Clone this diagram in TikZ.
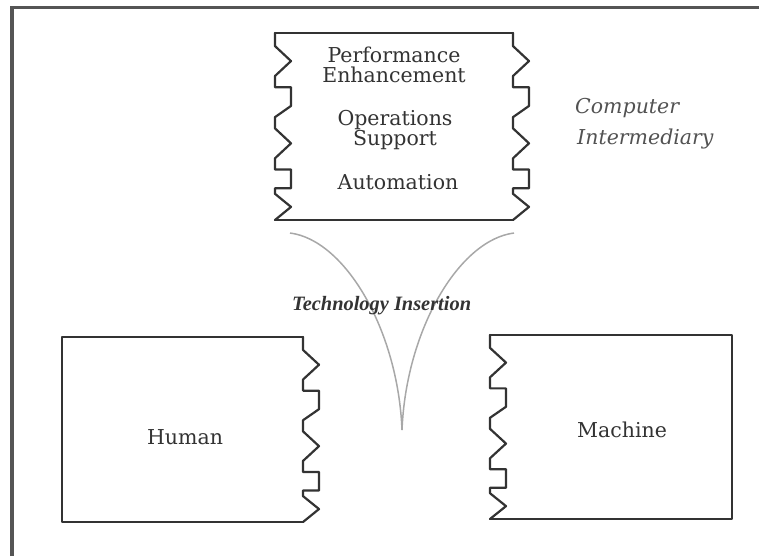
\documentclass[tikz,border=0pt]{standalone}
\usepackage{fontspec}
\setmainfont{DejaVu Serif}
\newfontfamily\insertfont{Liberation Serif}
\definecolor{ink}{HTML}{333333}
\definecolor{frameink}{HTML}{555555}
\definecolor{funnelink}{HTML}{A8A8A8}

% A toothed interface edge running downwards at x=#1 from y=#2 to y=#3;
% the teeth always point towards +x.
\newcommand\toothedge[3]{%
  \draw[boxline] (#1,#2)
    \foreach \f/\o in {0.07/0,0.15/1,0.23/0,0.29/0,0.29/1,0.39/1,0.45/0,
                       0.51/0,0.59/1,0.67/0,0.73/0,0.73/1,0.83/1,0.83/0,
                       0.86/0,0.93/1,1/0}
      {-- ({#1+\o*16},{#2+\f*(#3-#2)})};}

\begin{document}
\begin{tikzpicture}[x=1pt,y=-1pt,
  boxline/.style={draw=ink, line width=2.2pt, line join=round, line cap=round},
  frameline/.style={draw=frameink, line width=3.5pt},
  funnel/.style={draw=funnelink, line width=1.5pt},
  label/.style={text=ink, inner sep=0pt, align=center,
                font=\fontsize{20.5}{20}\selectfont},
  sidelabel/.style={text=ink!85, inner sep=0pt, anchor=base west,
                font=\fontsize{20.5}{24}\selectfont\itshape},
  insertlabel/.style={text=ink, inner sep=0pt, anchor=base west,
                font=\insertfont\fontsize{20.4}{24}\selectfont\bfseries\itshape}]
\useasboundingbox (0,0) rectangle (759,556);

% outer frame (top and left rule)
\draw[frameline] (12,556) -- (12,7.5) -- (759,7.5);

% computer intermediary box
\draw[boxline] (275,33) -- (513,33);
\draw[boxline] (275,220) -- (513,220);
\toothedge{275}{33}{220}
\toothedge{513}{33}{220}

% human box
\draw[boxline] (303,337) -- (62,337) -- (62,522) -- (303,522);
\toothedge{303}{337}{522}

% machine box
\draw[boxline] (490,335) -- (732,335) -- (732,519) -- (490,519);
\toothedge{490}{335}{519}

% technology insertion funnel
\coordinate (fl) at (290,233);
\coordinate (fr) at (514,233);
\coordinate (tip) at (402,430);
\draw[funnel] (fl) .. controls (345,240) and (398,330) .. (tip);
\draw[funnel] (fr) .. controls (459,240) and (406,330) .. (tip);

% labels
\node[label] (perf) at (394,65) {Performance\\Enhancement};
\node[label] (ops) at (395,130) {Operations\\Support};
\node[label] (auto) at (398,182) {Automation};
\node[sidelabel] (comp) at (575,114) {Computer};
\node[sidelabel] (inter) at (577,145) {Intermediary};
\node[insertlabel] (tech) at (292,310) {Technology Insertion};
\node[label] (human) at (185,437) {Human};
\node[label] (machine) at (622,430) {Machine};
\end{tikzpicture}
\end{document}
